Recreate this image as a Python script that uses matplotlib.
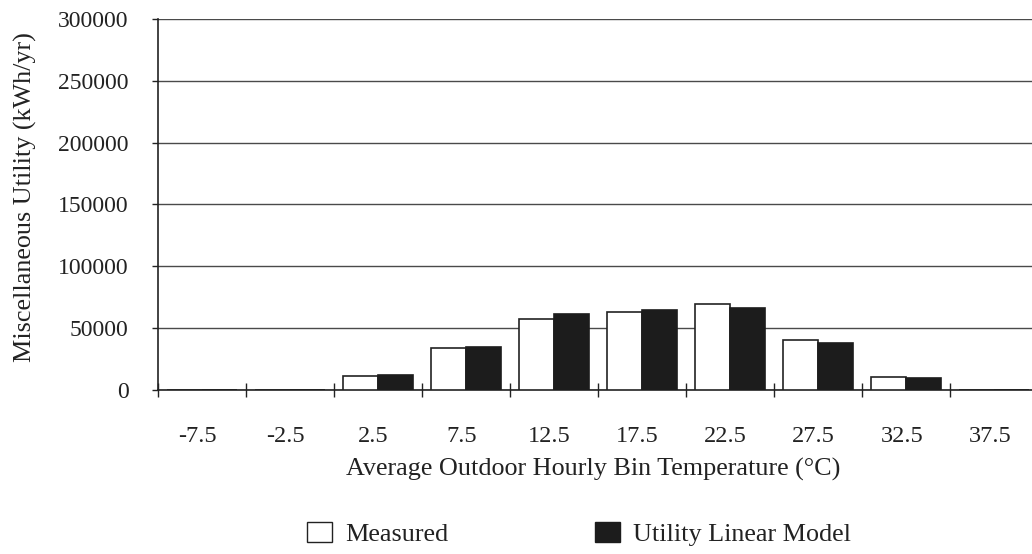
import numpy as np
import matplotlib.pyplot as plt
from matplotlib.patches import Patch

# Bin temperatures (°C) and annual miscellaneous utility (kWh/yr)
bins = ["-7.5", "-2.5", "2.5", "7.5", "12.5", "17.5", "22.5", "27.5", "32.5", "37.5"]
measured = [0, 0, 11500, 33800, 57500, 62900, 69700, 40200, 10800, 0]
linear_model = [0, 0, 12000, 35100, 61300, 64800, 65900, 38100, 9500, 0]
y_ticks = [0, 50000, 100000, 150000, 200000, 250000, 300000]


def main() -> None:
    plt.rcParams["font.family"] = ["Liberation Serif", "DejaVu Serif"]
    ink = "#222222"
    fig = plt.figure(figsize=(10.32, 5.54), dpi=100)
    ax = fig.add_axes([0.153, 0.296, 0.853, 0.670])

    x = np.arange(len(bins))
    width = 0.4
    ax.bar(x - width / 2, measured, width, color="white", edgecolor=ink,
           linewidth=1.2, zorder=3)
    ax.bar(x + width / 2, linear_model, width, color="#1c1c1c", edgecolor="#1c1c1c",
           linewidth=1.2, zorder=3)

    ax.set_xlim(-0.5, len(bins) - 0.5)
    ax.set_ylim(0, 300000)
    ax.set_yticks(y_ticks)
    ax.set_yticklabels([str(v) for v in y_ticks], fontsize=17, color=ink)
    ax.yaxis.grid(True, color="#4a4a4a", linewidth=1.0, zorder=0)

    # bin boundaries as major ticks, bin labels as minor ticks
    ax.set_xticks(np.arange(len(bins) + 1) - 0.5)
    ax.set_xticklabels([])
    ax.tick_params(axis="x", which="major", direction="inout", length=10,
                   width=1.0, color=ink)
    ax.set_xticks(x - 0.05, minor=True)
    ax.set_xticklabels(bins, minor=True, fontsize=17.5, color=ink)
    ax.tick_params(axis="x", which="minor", length=0, pad=26)
    ax.tick_params(axis="y", direction="out", length=4, width=1.0, pad=17,
                   color=ink)

    for side in ["top", "right"]:
        ax.spines[side].set_visible(False)
    for side in ["left", "bottom"]:
        ax.spines[side].set_color(ink)
        ax.spines[side].set_linewidth(1.2)

    fig.text(25 / 1032, 1 - 197 / 554, "Miscellaneous Utility (kWh/yr)",
             rotation=90, ha="center", va="center", fontsize=18.8, color=ink)
    fig.text(0.575, 0.153, "Average Outdoor Hourly Bin Temperature (°C)",
             ha="center", va="center", fontsize=18.8, color=ink)

    handles = [
        Patch(facecolor="white", edgecolor=ink, linewidth=1.0, label="Measured"),
        Patch(facecolor="#1c1c1c", edgecolor="#1c1c1c", label="Utility Linear Model"),
    ]
    fig.legend(handles=handles, loc="center", bbox_to_anchor=(0.561, 0.036), ncol=2,
               frameon=False, fontsize=18.8, columnspacing=5.6, handlelength=0.96,
               handleheight=0.8, handletextpad=0.5, labelcolor=ink)

    fig.savefig("out.png", dpi=100)


if __name__ == "__main__":
    main()
